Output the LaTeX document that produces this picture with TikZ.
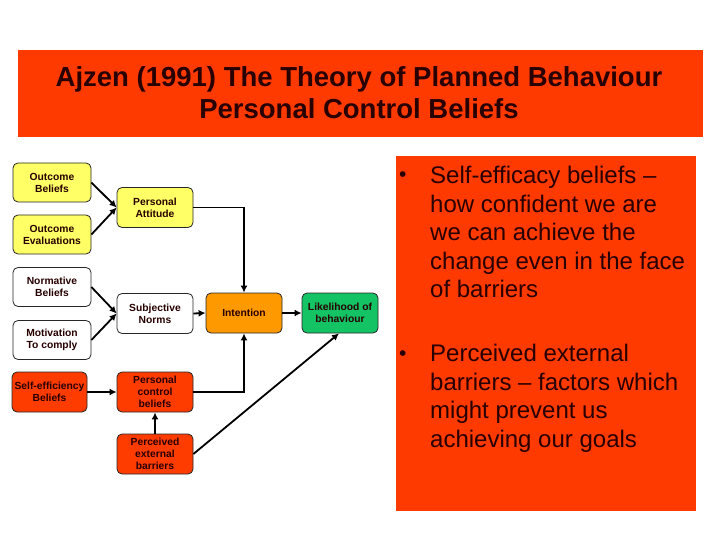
\documentclass[tikz,border=0pt]{standalone}
\usepackage{fontspec}
\setmainfont{Liberation Sans}
\usetikzlibrary{arrows.meta}
\definecolor{slidered}{RGB}{255,58,0}
\definecolor{boxyellow}{RGB}{255,255,102}
\definecolor{boxorange}{RGB}{255,153,0}
\definecolor{boxgreen}{RGB}{20,196,100}
\definecolor{boxred}{RGB}{255,60,0}
\definecolor{darktext}{RGB}{40,0,0}
\tikzset{
  box/.style={draw=black!85, line width=0.8pt, rounded corners=5pt, align=center,
    font=\fontsize{10.3}{12}\selectfont\bfseries, inner sep=1pt, text=darktext},
  wbox/.style={box, minimum width=78pt, minimum height=39pt},
  mbox/.style={box, minimum width=76pt, minimum height=40pt},
  conn/.style={line width=1.8pt, -{Latex[length=7pt,width=7pt]}},
  bodytext/.style={font=\fontsize{24}{28.5}\selectfont, align=left, inner sep=0pt, anchor=north west, text=darktext},
  bullet/.style={font=\fontsize{21}{24}\selectfont, anchor=base west, inner sep=0pt, text=darktext},
}
\begin{document}
\begin{tikzpicture}[x=1pt,y=-1pt]
\useasboundingbox (0,0) rectangle (720,540);
\fill[white] (0,0) rectangle (720,540);
% title
\fill[slidered] (18,50) rectangle (703,137);
\node[font=\fontsize{27.5}{32}\selectfont\bfseries, align=center, text=darktext] (title) at (359,93)
  {Ajzen (1991) The Theory of Planned Behaviour\\Personal Control Beliefs};
% right panel
\fill[slidered] (396,156) rectangle (696,511);
\node[bullet] (b1) at (399,182) {•};
\node[bodytext] (t1) at (430,166) {Self-efficacy beliefs –\\how confident we are\\we can achieve the\\change even in the face\\of barriers};
\node[bullet] (b2) at (399,360) {•};
\node[bodytext] (t2) at (430,344) {Perceived external\\barriers – factors which\\might prevent us\\achieving our goals};
% nodes
\node[wbox, fill=boxyellow] (ob) at (52,182.5) {Outcome\\Beliefs};
\node[wbox, fill=boxyellow] (oe) at (52,234.5) {Outcome\\Evaluations};
\node[mbox, fill=boxyellow] (pa) at (155,207.5) {Personal\\Attitude};
\node[wbox, fill=white] (nb) at (52,287) {Normative\\Beliefs};
\node[wbox, fill=white] (mc) at (52,340) {Motivation\\To comply};
\node[mbox, fill=white] (sn) at (155,313.5) {Subjective\\Norms};
\node[mbox, fill=boxorange] (int) at (244,313) {Intention};
\node[mbox, fill=boxgreen] (lb) at (340,313) {Likelihood of\\behaviour};
\node[box, fill=boxred, minimum width=75pt, minimum height=40pt] (se) at (49.5,392) {Self-efficiency\\Beliefs};
\node[mbox, fill=boxred] (pc) at (155,392) {Personal\\control\\beliefs};
\node[mbox, fill=boxred] (peb) at (155,454) {Perceived\\external\\barriers};
% connectors
\draw[conn] (ob.east) -- (pa.west);
\draw[conn] (oe.east) -- (pa.west);
\draw[conn] (nb.east) -- (sn.west);
\draw[conn] (mc.east) -- (sn.west);
\draw[conn] (pa.east) -| (int.north);
\draw[conn] (sn.east) -- (int.west);
\draw[conn] (int.east) -- (lb.west);
\draw[conn] (se.east) -- (pc.west);
\draw[conn] (peb.north) -- (pc.south);
\draw[conn] (pc.east) -| (int.south);
\draw[conn] (peb.east) -- ([xshift=-1pt]lb.south);
\end{tikzpicture}
\end{document}
